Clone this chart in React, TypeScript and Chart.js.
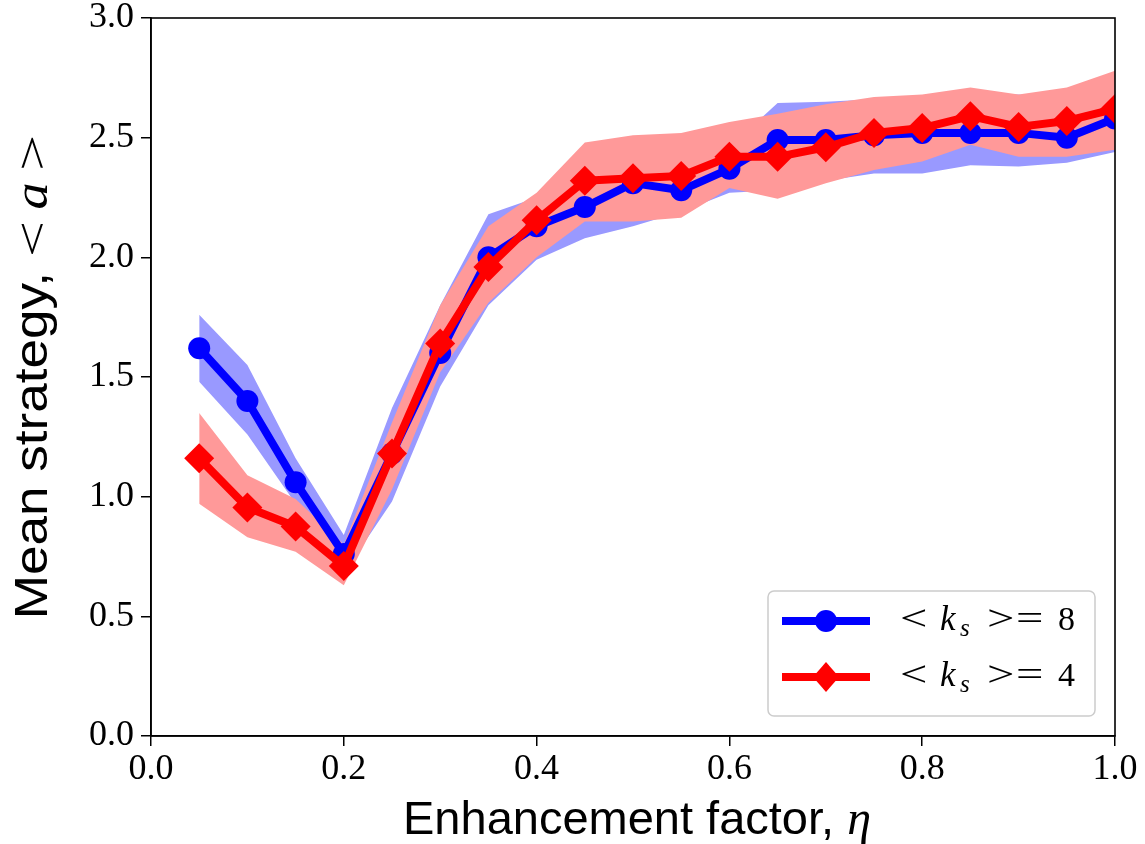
import React, { useEffect, useRef } from "react";
import { Chart, registerables } from "chart.js";

Chart.register(...registerables);

// ---- Data ----
const etaValues = [0.05, 0.1, 0.15, 0.2, 0.25, 0.3, 0.35, 0.4, 0.45, 0.5, 0.55, 0.6, 0.65, 0.7, 0.75, 0.8, 0.85, 0.9, 0.95, 1.0];

const ks8Mean = [1.62, 1.4, 1.06, 0.76, 1.18, 1.6, 2.0, 2.13, 2.21, 2.31, 2.28, 2.37, 2.49, 2.49, 2.51, 2.52, 2.52, 2.52, 2.5, 2.58];
const ks8Low = [1.48, 1.26, 0.97, 0.68, 0.98, 1.46, 1.8, 1.99, 2.08, 2.13, 2.19, 2.27, 2.28, 2.32, 2.35, 2.35, 2.385, 2.38, 2.395, 2.44];
const ks8High = [1.76, 1.55, 1.16, 0.84, 1.37, 1.8, 2.18, 2.25, 2.3, 2.4, 2.38, 2.46, 2.645, 2.65, 2.66, 2.665, 2.68, 2.68, 2.66, 2.7];

const ks4Mean = [1.16, 0.955, 0.875, 0.71, 1.18, 1.64, 1.96, 2.155, 2.32, 2.33, 2.34, 2.42, 2.42, 2.46, 2.52, 2.54, 2.59, 2.545, 2.57, 2.62];
const ks4Low = [0.97, 0.83, 0.77, 0.63, 1.03, 1.52, 1.81, 2.0, 2.15, 2.15, 2.165, 2.29, 2.245, 2.31, 2.365, 2.4, 2.47, 2.42, 2.42, 2.45];
const ks4High = [1.35, 1.09, 0.99, 0.8, 1.31, 1.8, 2.13, 2.27, 2.48, 2.51, 2.52, 2.565, 2.6, 2.64, 2.67, 2.68, 2.71, 2.68, 2.71, 2.78];

const seriesLabels = ["< k_s >= 8", "< k_s >= 4"];
const legendValues = ["8", "4"];
const seriesColors = ["#0000ff", "#ff0000"];
const bandColors = ["#9999ff", "#ff9999"];
const xTitleText = "Enhancement factor, ";
const xTitleSymbol = "η";
const yTitleText = "Mean strategy, ";
const yTitleSymbol = "a";
const xRange = [0, 1];
const yRange = [0, 3];
const xStep = 0.2;
const yStep = 0.5;

const pts = (ys: number[]) => etaValues.map((x, i) => ({ x, y: ys[i] }));

const SANS = '"Liberation Sans"';
const SERIF = '"Liberation Serif"';

// draw text horizontally stretched by sx; returns drawn width
function stretchedText(ctx: CanvasRenderingContext2D, text: string, x: number, y: number, font: string, sx: number) {
  ctx.save();
  ctx.font = font;
  ctx.translate(x, y);
  ctx.scale(sx, 1);
  ctx.fillText(text, 0, 0);
  const w = ctx.measureText(text).width * sx;
  ctx.restore();
  return w;
}

const framePlugin = {
  id: "frame",
  afterDatasetsDraw(chart: any) {
    const { ctx, chartArea } = chart;
    ctx.save();
    ctx.strokeStyle = "#000";
    ctx.lineWidth = 1.6;
    ctx.strokeRect(chartArea.left, chartArea.top, chartArea.right - chartArea.left, chartArea.bottom - chartArea.top);
    ctx.restore();
  },
};

const titlesPlugin = {
  id: "titles",
  afterDraw(chart: any) {
    const { ctx, chartArea } = chart;
    ctx.save();
    ctx.fillStyle = "#000";
    ctx.textBaseline = "alphabetic";
    ctx.textAlign = "left";
    // x title
    const sans = `47px ${SANS}`;
    const mIt = `italic 48px ${SERIF}`;
    const mUp = `44px ${SERIF}`;
    ctx.font = sans;
    const w1 = ctx.measureText(xTitleText).width;
    ctx.font = mIt;
    const w2 = ctx.measureText(xTitleSymbol).width;
    const cx = (chartArea.left + chartArea.right) / 2 + 4;
    const x = cx - (w1 + w2) / 2;
    const by = 834;
    ctx.font = sans;
    ctx.fillText(xTitleText, x, by);
    ctx.font = mIt;
    ctx.fillText(xTitleSymbol, x + w1, by);

    // y title (rotated, slightly stretched along its length like the reference)
    const stretch = 1.13;
    const cy = (chartArea.top + chartArea.bottom) / 2;
    ctx.translate(47, cy);
    ctx.rotate(-Math.PI / 2);
    ctx.scale(stretch, 1);
    ctx.font = sans;
    const a1 = ctx.measureText(yTitleText).width;
    ctx.font = mUp;
    const relSx = 1.3;
    const lt = ctx.measureText("<").width * relSx;
    const gt = ctx.measureText(">").width * relSx;
    ctx.font = mIt;
    const aw = ctx.measureText(yTitleSymbol).width;
    const gap = 10;
    const total = a1 + lt + gap + aw + gap + gt;
    let p = -total / 2;
    ctx.font = sans;
    ctx.fillText(yTitleText, p, 0);
    p += a1;
    stretchedText(ctx, "<", p, 0, mUp, relSx);
    p += lt + gap;
    ctx.font = mIt;
    ctx.fillText(yTitleSymbol, p, 0);
    p += aw + gap;
    stretchedText(ctx, ">", p, 0, mUp, relSx);
    ctx.restore();
  },
};

const legendPlugin = {
  id: "customLegend",
  afterDraw(chart: any) {
    const { ctx, chartArea } = chart;
    const w = 327;
    const h = 125;
    const x0 = chartArea.right - 20 - w;
    const y0 = chartArea.bottom - 20 - h;
    ctx.save();
    ctx.beginPath();
    ctx.roundRect(x0, y0, w, h, 6);
    ctx.fillStyle = "rgba(255,255,255,0.85)";
    ctx.fill();
    ctx.strokeStyle = "#cccccc";
    ctx.lineWidth = 1.5;
    ctx.stroke();

    for (let i = 0; i < seriesLabels.length; i++) {
      const cy = y0 + 30 + i * 56;
      const color = seriesColors[i];
      ctx.strokeStyle = color;
      ctx.fillStyle = color;
      ctx.lineWidth = 8;
      ctx.lineCap = "butt";
      ctx.beginPath();
      ctx.moveTo(x0 + 14, cy);
      ctx.lineTo(x0 + 102, cy);
      ctx.stroke();
      const mx = x0 + 58;
      ctx.beginPath();
      if (i === 0) {
        ctx.arc(mx, cy, 11, 0, Math.PI * 2);
      } else {
        ctx.moveTo(mx, cy - 15);
        ctx.lineTo(mx + 13, cy);
        ctx.lineTo(mx, cy + 15);
        ctx.lineTo(mx - 13, cy);
        ctx.closePath();
      }
      ctx.fill();

      // Text: < k_s >= N
      const base = cy + 9;
      ctx.fillStyle = "#000";
      ctx.textBaseline = "alphabetic";
      ctx.textAlign = "left";
      const rel = `36px ${SERIF}`;
      const up = `34px ${SERIF}`;
      const it = `italic 35px ${SERIF}`;
      const sub = `italic 25px ${SERIF}`;
      stretchedText(ctx, "<", x0 + 132, base, rel, 1.35);
      ctx.font = it;
      ctx.fillText("k", x0 + 172, base);
      ctx.font = sub;
      ctx.fillText("s", x0 + 192, base + 6);
      stretchedText(ctx, ">", x0 + 219, base, rel, 1.35);
      stretchedText(ctx, "=", x0 + 248, base, rel, 1.35);
      ctx.font = up;
      ctx.fillText(legendValues[i], x0 + 290, base);
    }
    ctx.restore();
  },
};

export default function App() {
  const canvasRef = useRef<HTMLCanvasElement | null>(null);

  useEffect(() => {
    if (!canvasRef.current) return;
    const tickFont = { family: SERIF, size: 36, lineHeight: 1.0 };
    const bandDs = (label: string, ys: number[], fill: any, color: string | undefined, order: number) => ({
      label,
      data: pts(ys),
      borderColor: "rgba(0,0,0,0)",
      backgroundColor: color || "rgba(0,0,0,0)",
      borderWidth: 0,
      pointRadius: 0,
      fill,
      order,
      clip: 0,
    });
    const chart = new Chart(canvasRef.current, {
      type: "line",
      data: {
        datasets: [
          bandDs("ks8 low", ks8Low, false, undefined, 10),
          bandDs("ks8 high", ks8High, "-1", bandColors[0], 9),
          bandDs("ks4 low", ks4Low, false, undefined, 8),
          bandDs("ks4 high", ks4High, "-1", bandColors[1], 7),
          {
            label: seriesLabels[0],
            data: pts(ks8Mean),
            borderColor: seriesColors[0],
            backgroundColor: seriesColors[0],
            borderWidth: 8,
            borderJoinStyle: "round",
            pointStyle: "circle",
            pointRadius: 11,
            pointBorderWidth: 0,
            fill: false,
            order: 2,
            clip: 0,
          },
          {
            label: seriesLabels[1],
            data: pts(ks4Mean),
            borderColor: seriesColors[1],
            backgroundColor: seriesColors[1],
            borderWidth: 8,
            borderJoinStyle: "round",
            pointStyle: "rectRot",
            pointRadius: 15,
            pointBorderWidth: 0,
            fill: false,
            order: 1,
            clip: 0,
          },
        ],
      },
      options: {
        animation: false,
        responsive: false,
        devicePixelRatio: 1,
        layout: { padding: { top: 18, right: 30, left: 0, bottom: 0 } },
        plugins: { legend: { display: false }, tooltip: { enabled: false } },
        elements: { line: { tension: 0 } },
        scales: {
          x: {
            type: "linear",
            min: xRange[0],
            max: xRange[1],
            ticks: {
              stepSize: xStep,
              callback: (v: any) => Number(v).toFixed(1),
              font: tickFont,
              color: "#000",
              padding: 6,
              maxRotation: 0,
              autoSkip: false,
            },
            grid: { drawOnChartArea: false, drawTicks: true, tickLength: 10, color: "#000", lineWidth: 1.5 },
            border: { display: true, color: "#000", width: 1.6 },
            title: { display: false },
            afterFit: (s: any) => {
              s.height = 108;
              s.paddingLeft = 0;
              s.paddingRight = 0;
            },
          },
          y: {
            type: "linear",
            min: yRange[0],
            max: yRange[1],
            ticks: {
              stepSize: yStep,
              callback: (v: any) => Number(v).toFixed(1),
              font: tickFont,
              color: "#000",
              padding: 7,
            },
            grid: { drawOnChartArea: false, drawTicks: true, tickLength: 10, color: "#000", lineWidth: 1.5 },
            border: { display: true, color: "#000", width: 1.6 },
            title: { display: false },
            afterFit: (s: any) => {
              s.width = 151;
              s.paddingTop = 0;
              s.paddingBottom = 0;
            },
          },
        },
      },
      plugins: [framePlugin, titlesPlugin, legendPlugin],
    } as any);
    return () => chart.destroy();
  }, []);

  return (
    <div style={{ position: "absolute", left: 0, top: 0, width: 1145, height: 844, background: "#fff" }}>
      <canvas ref={canvasRef} width={1145} height={844} style={{ display: "block" }} />
    </div>
  );
}
